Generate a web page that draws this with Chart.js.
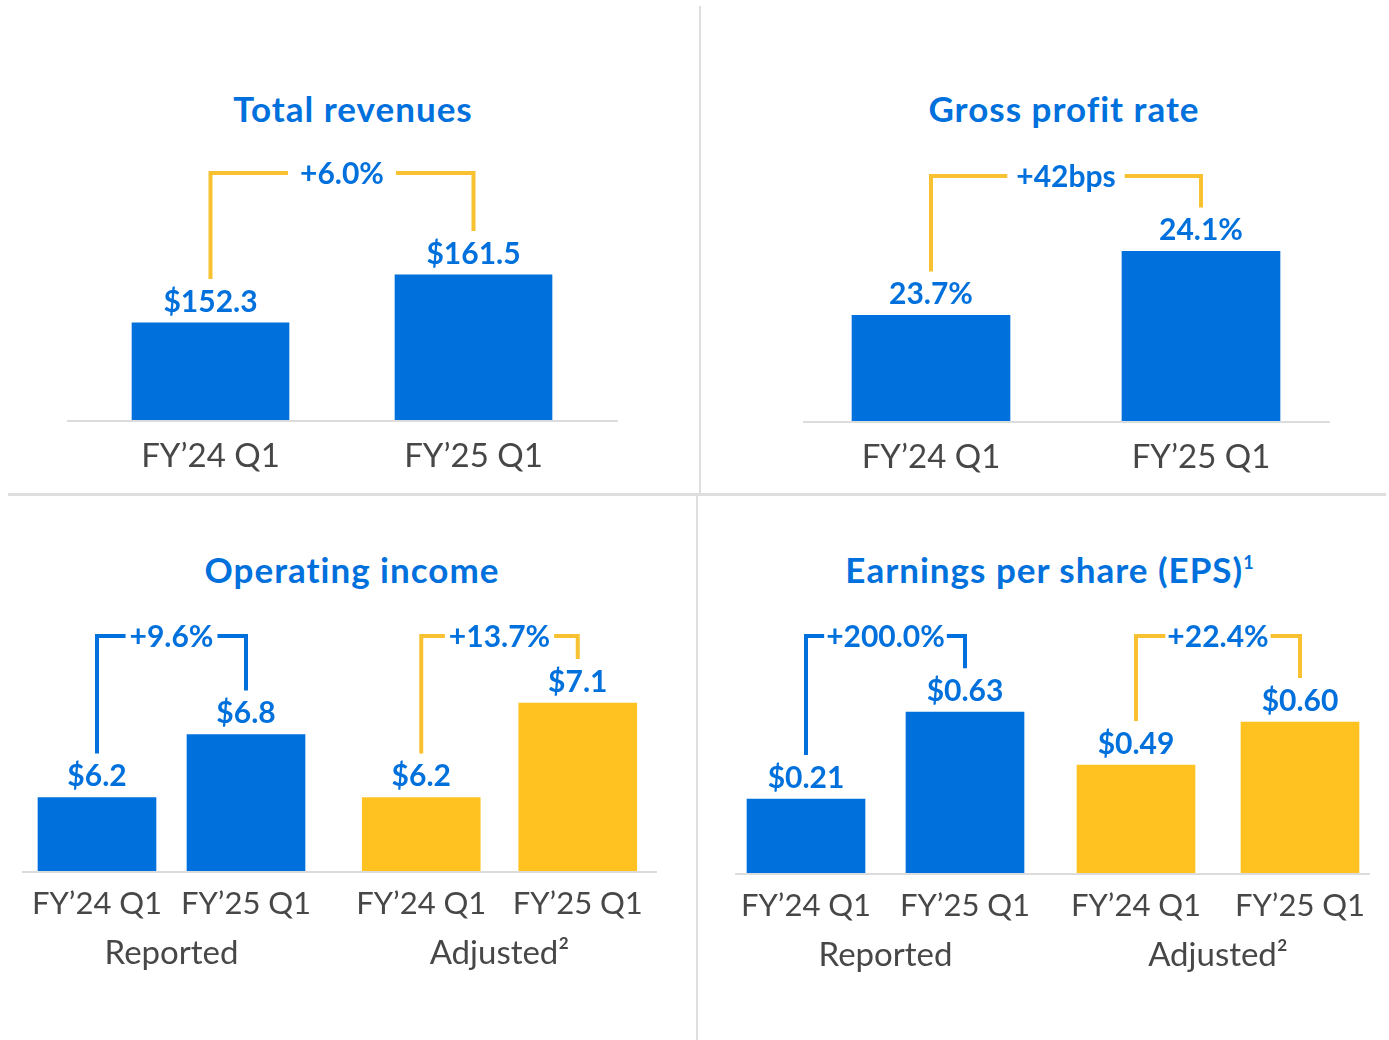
<!DOCTYPE html>
<html>
<head>
<meta charset="utf-8">
<script src="https://cdn.jsdelivr.net/npm/chart.js@4.4.1/dist/chart.umd.min.js"></script>
<style>
  html, body { margin: 0; padding: 0; background: #fff; }
  #page { position: relative; width: 1389px; height: 1040px; overflow: hidden; font-family: Lato, sans-serif; }
  .title { position: absolute; width: 600px; text-align: center; color: #0071dc; font-weight: bold; font-size: 35px; line-height: 35px; letter-spacing: 1px; }
  .title sup { font-size: 18px; position: relative; top: -14px; vertical-align: baseline; line-height: 0; }
  .rule { position: absolute; background: #dedede; }
  canvas { position: absolute; }
</style>
</head>
<body>
<div id="page">
  <div class="rule" style="left:8px; top:493px; width:1378px; height:3px;"></div>
  <div class="rule" style="left:699px; top:6px; width:2px; height:487px;"></div>
  <div class="rule" style="left:696px; top:496px; width:2px; height:544px;"></div>
</div>
<script>
// values
const periods = ['FY’24 Q1', 'FY’25 Q1'];
const groupNames = ['Reported', 'Adjusted²'];
const panelTitles = ['Total revenues', 'Gross profit rate', 'Operating income', 'Earnings per share (EPS)'];
const revenues = [152.3, 161.5];
const grossProfitRate = [23.7, 24.1];
const opIncomeReported = [6.2, 6.8];
const opIncomeAdjusted = [6.2, 7.1];
const epsReported = [0.21, 0.63];
const epsAdjusted = [0.49, 0.60];
const changes = ['+6.0%', '+42bps', '+9.6%', '+13.7%', '+200.0%', '+22.4%'];

const BLUE = '#0071dc';
const YELLOW = '#ffc220';
const BRACKET_YELLOW = '#f7c131';
const GREY = '#474747';

const page = document.getElementById('page');

// panel titles
[[353, 91], [1064, 91], [352, 552], [1050, 552]].forEach((p, i) => {
    const d = document.createElement('div');
    d.className = 'title';
    d.style.left = (p[0] - 300) + 'px';
    d.style.top = p[1] + 'px';
    d.textContent = panelTitles[i];
    if (i === 3) {
        const sup = document.createElement('sup');
        sup.textContent = '1';
        d.appendChild(sup);
    }
    page.appendChild(d);
});

// value labels, brackets and the baseline
const annotPlugin = {
    id: 'annot',
    beforeDatasetsDraw(chart, args, opts) {
        const ctx = chart.ctx;
        const yb = chart.chartArea.bottom;
        ctx.save();
        ctx.strokeStyle = '#dcdcdc';
        ctx.lineWidth = 2;
        ctx.beginPath();
        ctx.moveTo(opts.lineFrom, yb + 1);
        ctx.lineTo(opts.lineTo, yb + 1);
        ctx.stroke();
        ctx.restore();
    },
    afterDatasetsDraw(chart, args, opts) {
        const ctx = chart.ctx;
        const bars = chart.getDatasetMeta(0).data;
        const values = chart.data.datasets[0].data;
        ctx.save();
        ctx.font = 'bold 30px Lato';
        ctx.fillStyle = BLUE;
        ctx.textAlign = 'center';
        ctx.textBaseline = 'middle';
        bars.forEach((bar, i) => ctx.fillText(opts.format(values[i]), bar.x, bar.y - 21));

        const [a, b] = bars;
        const y = opts.bracketY;
        const w = ctx.measureText(opts.change).width;
        const mid = (a.x + b.x) / 2;
        ctx.strokeStyle = opts.color;
        ctx.lineWidth = 4;
        ctx.beginPath();
        ctx.moveTo(a.x, a.y - 44);
        ctx.lineTo(a.x, y);
        ctx.lineTo(mid - w / 2 - opts.gap, y);
        ctx.stroke();
        ctx.beginPath();
        ctx.moveTo(mid + w / 2 + opts.gap, y);
        ctx.lineTo(b.x, y);
        ctx.lineTo(b.x, b.y - 44);
        ctx.stroke();
        ctx.fillText(opts.change, mid, y + 1);
        ctx.restore();
    }
};

// c.area / c.line are page x ranges; the canvas gets a wide margin so tick labels never push the plot area
function makeChart(c) {
    const M = 70;
    const left = Math.floor(c.area[0] - M);
    const right = Math.ceil(c.area[1] + M);
    const plotH = c.baseline - c.top;
    const tickSize = c.group ? 31 : 33;
    const tickPad = c.group ? 17.5 : 19.5;
    const axisH = tickSize + tickPad * 2 + (c.group ? 33 : 0);

    const canvas = document.createElement('canvas');
    canvas.width = right - left;
    canvas.height = plotH + axisH;
    canvas.style.left = left + 'px';
    canvas.style.top = c.top + 'px';
    page.appendChild(canvas);

    return new Chart(canvas, {
        type: 'bar',
        data: {
            labels: periods,
            datasets: [{
                data: c.values,
                backgroundColor: c.barColor,
                barThickness: c.barWidth,
                base: c.min
            }]
        },
        options: {
            responsive: false,
            animation: false,
            layout: { padding: { left: c.area[0] - left, right: right - c.area[1], top: 0, bottom: 0 } },
            plugins: {
                legend: { display: false },
                tooltip: { enabled: false },
                annot: {
                    format: c.format,
                    change: c.change,
                    color: c.bracketColor,
                    bracketY: c.bracketY,
                    gap: c.gap,
                    lineFrom: c.line[0] - left,
                    lineTo: c.line[1] - left
                }
            },
            scales: {
                x: {
                    grid: { display: false, drawTicks: false },
                    border: { display: false },
                    ticks: {
                        color: GREY,
                        font: { family: 'Lato', size: tickSize, lineHeight: 1 },
                        padding: tickPad,
                        maxRotation: 0,
                        autoSkip: false
                    },
                    title: {
                        display: !!c.group,
                        text: c.group || '',
                        color: GREY,
                        font: { family: 'Lato', size: 33, lineHeight: 1 },
                        padding: 0
                    }
                },
                y: {
                    display: false,
                    min: c.min,
                    max: c.min + plotH / c.ppu
                }
            }
        },
        plugins: [annotPlugin]
    });
}

const dollars1 = v => '$' + v.toFixed(1);
const dollars2 = v => '$' + v.toFixed(2);
const percent1 = v => v.toFixed(1) + '%';

// Total revenues
makeChart({ area: [79, 605], line: [67, 618], top: 140, baseline: 420,
    values: revenues, min: 133.7, ppu: 5.22, barWidth: 157, barColor: BLUE,
    format: dollars1, change: changes[0], bracketColor: BRACKET_YELLOW, bracketY: 33, gap: 12 });

// Gross profit rate
makeChart({ area: [796, 1336], line: [803, 1330], top: 140, baseline: 421,
    values: grossProfitRate, min: 23.04, ppu: 160, barWidth: 158, barColor: BLUE,
    format: percent1, change: changes[1], bracketColor: BRACKET_YELLOW, bracketY: 36, gap: 9 });

// Operating income
makeChart({ area: [22.5, 320.5], line: [22, 333], top: 600, baseline: 871, group: groupNames[0],
    values: opIncomeReported, min: 5.5, ppu: 105, barWidth: 118, barColor: BLUE,
    format: dollars1, change: changes[2], bracketColor: BLUE, bracketY: 36, gap: 4 });
makeChart({ area: [343, 656], line: [332, 657], top: 600, baseline: 871, group: groupNames[1],
    values: opIncomeAdjusted, min: 5.5, ppu: 105, barWidth: 118, barColor: YELLOW,
    format: dollars1, change: changes[3], bracketColor: BRACKET_YELLOW, bracketY: 36, gap: 4 });

// Earnings per share
makeChart({ area: [726.5, 1044.5], line: [735, 1051], top: 600, baseline: 873, group: groupNames[0],
    values: epsReported, min: -0.147, ppu: 207, barWidth: 118, barColor: BLUE,
    format: dollars2, change: changes[4], bracketColor: BLUE, bracketY: 36, gap: 2 });
makeChart({ area: [1054, 1382], line: [1050, 1370], top: 600, baseline: 873, group: groupNames[1],
    values: epsAdjusted, min: 0.214, ppu: 391, barWidth: 118, barColor: YELLOW,
    format: dollars2, change: changes[5], bracketColor: BRACKET_YELLOW, bracketY: 36, gap: 2 });
</script>
</body>
</html>
